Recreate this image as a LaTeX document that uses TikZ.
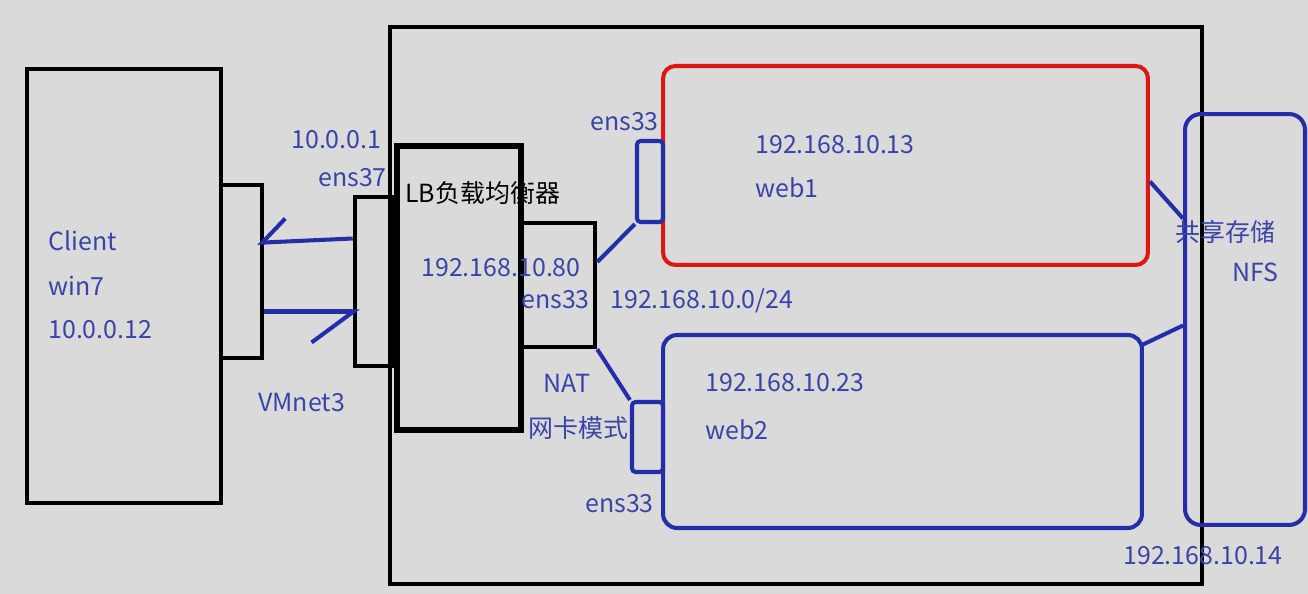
\documentclass[tikz,border=0pt]{standalone}
\usepackage{fontspec}
\newfontfamily\cjk{Noto Sans CJK SC}
\usetikzlibrary{arrows.meta,calc}
\definecolor{bggray}{RGB}{218,218,218}
\definecolor{netblue}{RGB}{36,46,168}
\definecolor{labelblue}{RGB}{58,68,168}
\definecolor{webred}{RGB}{222,22,22}

\begin{document}
\begin{tikzpicture}[
    x=0.02cm, y=-0.02cm,
    box/.style={draw=black, line width=2.6pt, inner sep=0pt},
    nic/.style={draw=netblue, line width=2.3pt, rounded corners=2pt, inner sep=0pt},
    server/.style={draw=netblue, line width=2.3pt, rounded corners=8pt, inner sep=0pt},
    link/.style={draw=netblue, line width=2.3pt},
    lbl/.style={font=\cjk\fontsize{14.2}{16}\selectfont, text=labelblue, anchor=west, inner sep=0pt}
  ]
  \useasboundingbox (0,0) rectangle (1308,594);
  \fill[bggray] (0,0) rectangle (1308,594);

  % client side
  \node[box, minimum width=3.88cm, minimum height=8.68cm] (client) at (124,286) {};
  \node[box, minimum width=0.82cm, minimum height=3.46cm] (cnic)   at (241.5,271.5) {};

  % vmware host
  \node[box, minimum width=16.24cm, minimum height=11.14cm] (host) at (796,305.5) {};
  \node[box, minimum width=0.74cm, minimum height=3.38cm]  (lbin)  at (373.5,281.5) {};
  \node[box, line width=3pt, minimum width=2.48cm, minimum height=5.68cm] (lb) at (459,288) {};
  \node[box, minimum width=1.48cm, minimum height=2.48cm]  (lbout) at (558,285) {};

  \node[server, draw=webred, rounded corners=7pt, minimum width=9.7cm, minimum height=3.98cm] (web1) at (905.5,165.5) {};
  \node[nic, minimum width=0.52cm, minimum height=1.62cm] (nic1) at (650,181.5) {};
  \node[server, minimum width=9.58cm, minimum height=3.86cm] (web2) at (902.5,431.5) {};
  \node[nic, minimum width=0.62cm, minimum height=1.4cm]  (nic2) at (647.5,437) {};
  \node[server, rounded corners=9pt, minimum width=2.4cm, minimum height=8.22cm] (nfs) at (1245,319.5) {};

  % links
  \draw[link, shorten >=-0.14cm, -{Straight Barb[harpoon, swap, length=0.48cm, width=0.92cm]}]
    ($(lbin.west)+(0,-43)$) -- ($(cnic.east)+(0,-29)$);
  \draw[link, shorten >=-0.14cm, -{Straight Barb[harpoon, swap, length=0.84cm, width=1.24cm]}]
    ($(cnic.east)+(0,40)$) -- ($(lbin.west)+(0,30)$);
  \draw[link] ($(lbout.east)+(0,-23)$) -- (nic1.south west);
  \draw[link] (lbout.south east) -- (nic2.north west);
  \draw[link] ($(web1.east)+(0,16)$) -- ($(nfs.west)+(0,-101)$);
  \draw[link] ($(web2.north east)+(-2,12)$) -- ($(nfs.west)+(0,6)$);

  % labels
  \node[lbl] (cname) at (48,241) {Client};
  \node[lbl] (cos)   at (48,286) {win7};
  \node[lbl] (cip)   at (48,330) {10.0.0.12};
  \node[lbl] (gwip)  at (291,140) {10.0.0.1};
  \node[lbl] (ens37) at (318,178) {ens37};
  \node[lbl] (vmnet) at (258,403) {VMnet3};
  \node[lbl, text=black] (lbname) at (405,193) {LB负载均衡器};
  \node[lbl] (lbip)  at (421,268) {192.168.10.80};
  \node[lbl] (lbens) at (521,300) {ens33};
  \node[lbl] (nat)   at (543,383) {NAT};
  \node[lbl] (natm)  at (528,428) {网卡模式};
  \node[lbl] (ens1)  at (590,122) {ens33};
  \node[lbl] (w1ip)  at (755,145) {192.168.10.13};
  \node[lbl] (w1)    at (755,188) {web1};
  \node[lbl] (subnet) at (610,301) {192.168.10.0/24};
  \node[lbl] (w2ip)  at (705,383) {192.168.10.23};
  \node[lbl] (w2)    at (705,430) {web2};
  \node[lbl] (ens2)  at (585,504) {ens33};
  \node[lbl] (share) at (1175,232) {共享存储};
  \node[lbl] (nfsn)  at (1232,272) {NFS};
  \node[lbl] (nfsip) at (1123,556) {192.168.10.14};
\end{tikzpicture}
\end{document}
